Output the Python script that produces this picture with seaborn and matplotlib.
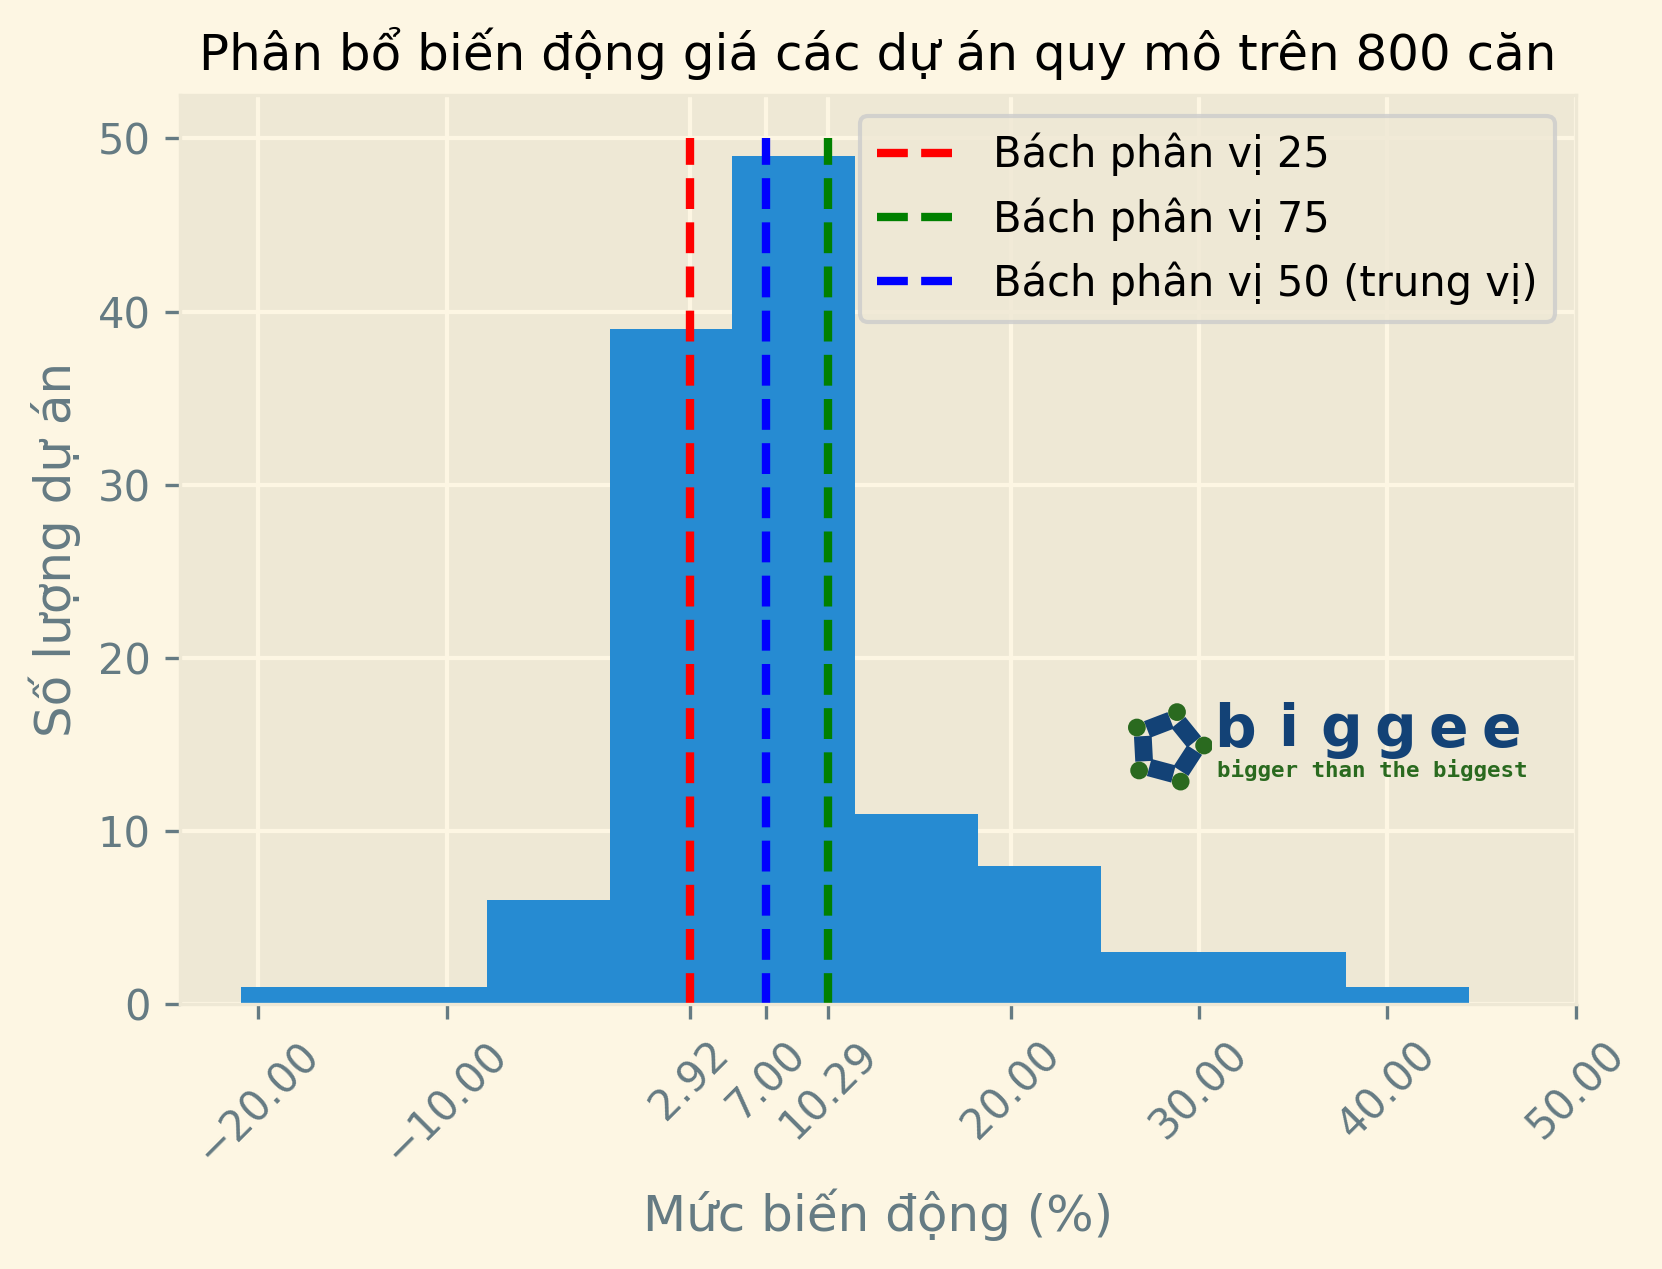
import numpy as np
import pandas as pd
import matplotlib
matplotlib.use("Agg")
import matplotlib.pyplot as plt
import matplotlib.patches as mpatches
import matplotlib.transforms as mtransforms
import seaborn as sns

# ---------------------------------------------------------------------
# Data
# ---------------------------------------------------------------------
bin_edges = [-20.91, -14.38, -7.86, -1.33, 5.19, 11.72, 18.25, 24.77, 31.30, 37.82, 44.35]
bin_counts = [1, 1, 6, 39, 49, 11, 8, 3, 3, 1]

p25 = 2.92
p50 = 7.00
p75 = 10.29

base_ticks = [-20, -10, 20, 30, 40, 50]

df = pd.DataFrame({
    "center": [(a + b) / 2 for a, b in zip(bin_edges[:-1], bin_edges[1:])],
    "count": bin_counts,
})

# ---------------------------------------------------------------------
# Plot
# ---------------------------------------------------------------------
plt.style.use("Solarize_Light2")
plt.rcParams["font.family"] = ["DejaVu Sans"]

fig = plt.figure(figsize=(1662 / 300, 1269 / 300), dpi=300)
ax = fig.add_axes([0.1083, 0.2088, 0.8397, 0.7162])

sns.histplot(data=df, x="center", weights="count", bins=bin_edges,
             color="#268BD2", alpha=1, linewidth=0, ax=ax)

ymax = 50
ax.vlines(p25, 0, ymax, colors="red", linestyles="--", lw=2, label="Bách phân vị 25")
ax.vlines(p75, 0, ymax, colors="green", linestyles="--", lw=2, label="Bách phân vị 75")
ax.vlines(p50, 0, ymax, colors="blue", linestyles="--", lw=2, label="Bách phân vị 50 (trung vị)")

ticks = sorted(base_ticks + [p25, p50, p75])
ax.set_xticks(ticks)
ax.set_xticklabels([f"{t:.2f}".replace("-", "\u2212") for t in ticks], rotation=45)
ax.set_xlim(-24.17, 50)
ax.set_ylim(0, 52.5)

ax.set_title("Phân bổ biến động giá các dự án quy mô trên 800 căn", color="black", fontsize=12)
ax.set_xlabel("Mức biến động (%)")
ax.set_ylabel("Số lượng dự án")
ax.legend(loc="upper right")

# ---------------------------------------------------------------------
# Logo
# ---------------------------------------------------------------------
lax = fig.add_axes([0.676, 0.376, 0.053, 0.07])
lax.set_xlim(-1.3, 1.3)
lax.set_ylim(-1.3, 1.3)
lax.set_aspect("equal")
lax.axis("off")
angs = np.deg2rad(np.array([75, 3, -69, -141, 147]))
vx, vy = np.cos(angs), np.sin(angs)
for i in range(5):
    j = (i + 1) % 5
    mx, my = (vx[i] + vx[j]) / 2 * 0.88, (vy[i] + vy[j]) / 2 * 0.88
    ang = np.degrees(np.arctan2(vy[j] - vy[i], vx[j] - vx[i]))
    L, W = 0.62, 0.4
    tr = mtransforms.Affine2D().rotate_deg_around(mx, my, ang) + lax.transData
    lax.add_patch(mpatches.Rectangle((mx - L / 2, my - W / 2), L, W,
                                     color="#134276", transform=tr))
for x, y in zip(vx, vy):
    lax.add_patch(mpatches.Circle((x * 1.08, y * 1.08), 0.2, color="#2a6a1f"))

for k, ch in enumerate("biggee"):
    fig.text(0.743 + k * 0.0321, 0.4115, ch, fontsize=14, fontweight="bold",
             color="#134276", va="baseline", ha="center")
fig.text(0.732, 0.388, "bigger than the biggest", fontsize=5.4, fontweight="bold",
         color="#2a6a1f", va="baseline", ha="left", family="DejaVu Sans Mono")

fig.savefig("out.png", dpi=300)
